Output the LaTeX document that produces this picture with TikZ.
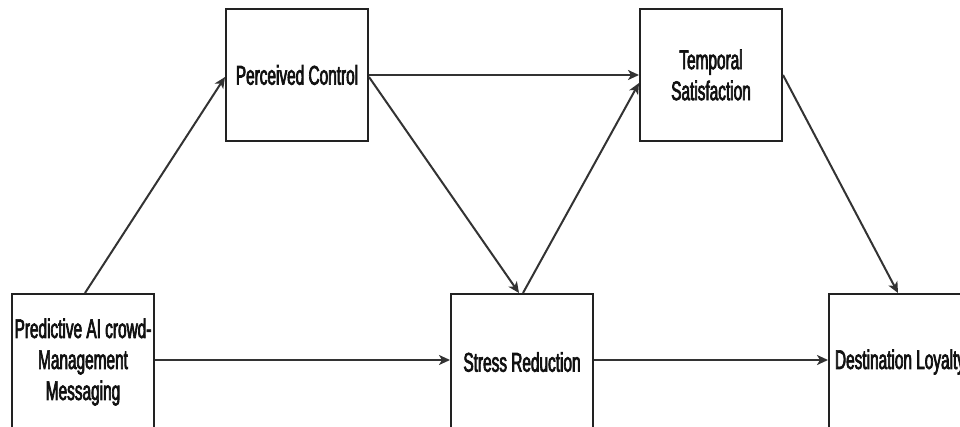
\documentclass[tikz,border=0pt]{standalone}
\usepackage{fontspec}
\setmainfont{Liberation Sans}[FakeStretch=0.57,FakeBold=2.5]
\usetikzlibrary{arrows.meta,calc}
\definecolor{boxline}{HTML}{222222}
\definecolor{arrline}{HTML}{333333}
\definecolor{txt}{HTML}{111111}
\tikzset{
  varbox/.style={draw=boxline, line width=2pt, fill=white, minimum width=142pt, minimum height=132pt,
    inner sep=0pt, align=center, text=txt, font=\fontsize{27}{31}\selectfont},
  tallbox/.style={varbox, minimum height=136pt},
  conn/.style={draw=arrline, line width=2pt, -{Stealth[length=11pt,width=10pt,inset=3pt]}}
}
\begin{document}
\begin{tikzpicture}[x=1pt,y=1pt]
\useasboundingbox (0,0) rectangle (960,426);
\node[tallbox] (pred) at (83,64) {Predictive AI crowd-\\Management\\Messaging};
\node[varbox] (pc) at (297,351) {Perceived Control};
\node[varbox] (ts) at (711,351) {Temporal\\Satisfaction};
\node[tallbox] (sr) at (522,64) {Stress Reduction};
\node[tallbox] (dl) at (900,64) {Destination Loyalty};
\draw[conn] ([xshift=2pt]pred.north) -- ([yshift=-2pt]pc.west);
\draw[conn] (pc.east) -- (ts.west);
\draw[conn] ([yshift=-2pt]pc.east) -- ([xshift=-3pt]sr.north);
\draw[conn] ([xshift=1pt]sr.north) -- ([yshift=-8pt]ts.west);
\draw[conn] (ts.east) -- ([xshift=-2pt]dl.north);
\draw[conn] ([yshift=2pt]pred.east) -- ([yshift=2pt]sr.west);
\draw[conn] ([yshift=2pt]sr.east) -- ([yshift=2pt]dl.west);
\end{tikzpicture}
\end{document}
